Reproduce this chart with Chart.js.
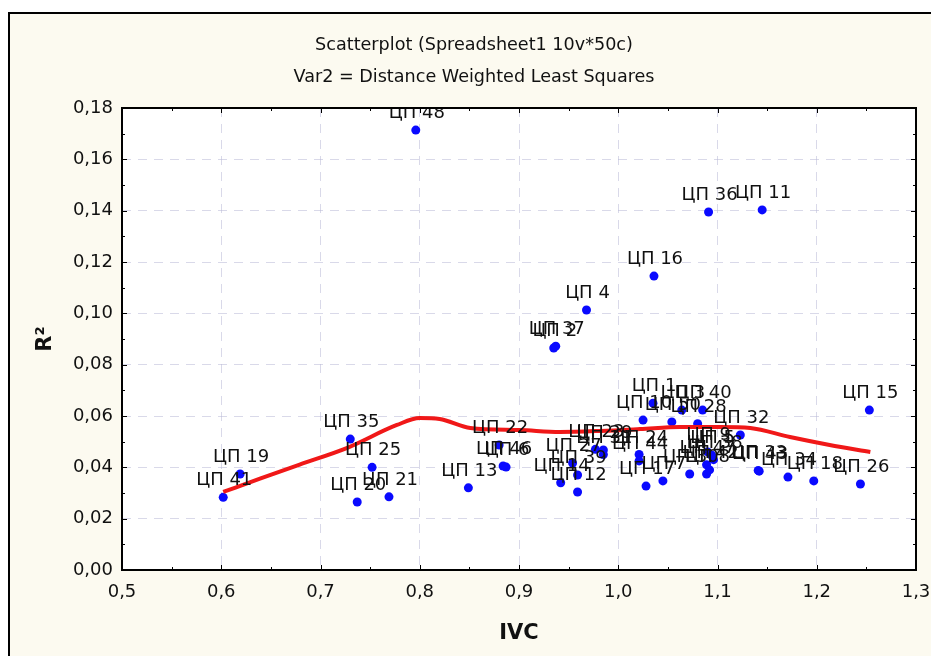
<!DOCTYPE html>
<html>
<head>
<meta charset="utf-8">
<script src="https://cdn.jsdelivr.net/npm/chart.js@4.4.1/dist/chart.umd.min.js"></script>
<style>
  html, body { margin: 0; padding: 0; background: #fff; }
</style>
</head>
<body>
<canvas id="scatterChart" width="931" height="656"></canvas>
<script>
// case names, IVC (x) and R2 (y)
var pointNames = [
  "ЦП 48", "ЦП 36", "ЦП 11", "ЦП 16", "ЦП 4", "ЦП 2", "ЦП 37", "ЦП 15",
  "ЦП 1", "ЦП 3", "ЦП 40", "ЦП 10", "ЦП 50", "ЦП 28", "ЦП 32", "ЦП 35",
  "ЦП 22", "ЦП 41", "ЦП 19", "ЦП 25", "ЦП 20", "ЦП 21", "ЦП 6", "ЦП 46",
  "ЦП 13", "ЦП 23", "ЦП 29", "ЦП 31", "ЦП 27", "ЦП 39", "ЦП 14", "ЦП 12",
  "ЦП 24", "ЦП 44", "ЦП 17", "ЦП 7", "ЦП 30", "ЦП 8", "ЦП 38", "ЦП 9",
  "ЦП 47", "ЦП 42", "ЦП 5", "ЦП 43", "ЦП 33", "ЦП 34", "ЦП 18", "ЦП 26"
];
var ivcValues = [
  0.796, 1.091, 1.145, 1.036, 0.968, 0.935, 0.937, 1.253,
  1.035, 1.064, 1.085, 1.025, 1.054, 1.080, 1.123, 0.730,
  0.880, 0.602, 0.619, 0.752, 0.737, 0.769, 0.887, 0.884,
  0.849, 0.977, 0.985, 0.985, 0.954, 0.959, 0.942, 0.959,
  1.021, 1.021, 1.028, 1.045, 1.072, 1.089, 1.096, 1.090,
  1.089, 1.092, 1.094, 1.142, 1.141, 1.171, 1.197, 1.244
];
var r2Values = [
  0.1714, 0.1395, 0.1403, 0.1145, 0.1013, 0.0865, 0.0872, 0.0623,
  0.0650, 0.0623, 0.0623, 0.0584, 0.0577, 0.0570, 0.0526, 0.0510,
  0.0487, 0.0283, 0.0374, 0.0400, 0.0265, 0.0285, 0.0401, 0.0405,
  0.0320, 0.0470, 0.0468, 0.0450, 0.0417, 0.0370, 0.0340, 0.0304,
  0.0450, 0.0425, 0.0327, 0.0347, 0.0374, 0.0374, 0.0430, 0.0460,
  0.0410, 0.0390, 0.0448, 0.0385, 0.0388, 0.0362, 0.0347, 0.0335
];

// distance weighted least squares fit
var curveIvc = [0.602, 0.639, 0.679, 0.727, 0.777, 0.800, 0.820, 0.851, 0.901, 0.941, 0.982, 1.022, 1.062, 1.103, 1.133, 1.173, 1.213, 1.254];
var curveR2 = [0.0304, 0.0356, 0.0411, 0.0476, 0.0565, 0.0592, 0.0588, 0.0553, 0.0545, 0.0538, 0.0542, 0.0549, 0.0557, 0.0557, 0.0553, 0.0518, 0.0487, 0.046];

var titleLines = ["Scatterplot (Spreadsheet1 10v*50c)", "Var2 = Distance Weighted Least Squares"];
var xTitle = "IVC";
var yTitle = "R²";

var fontFamily = "'DejaVu Sans', sans-serif";

var scatterPoints = ivcValues.map(function (v, i) { return { x: v, y: r2Values[i] }; });
var curvePoints = curveIvc.map(function (v, i) { return { x: v, y: curveR2[i] }; });

var framePlugin = {
  id: "frame",
  beforeDraw: function (chart) {
    var ctx = chart.ctx, w = chart.width, h = chart.height, a = chart.chartArea;
    ctx.save();
    ctx.fillStyle = "#fff";
    ctx.fillRect(0, 0, w, h);
    ctx.fillStyle = "#fcfaf0";
    ctx.fillRect(9, 13, w, h);
    ctx.strokeStyle = "#000";
    ctx.lineWidth = 2;
    ctx.beginPath();
    ctx.moveTo(9, h);
    ctx.lineTo(9, 13);
    ctx.lineTo(w, 13);
    ctx.stroke();
    ctx.fillStyle = "#fff";
    ctx.fillRect(a.left, a.top, a.right - a.left, a.bottom - a.top);
    ctx.restore();
  },
  afterDraw: function (chart) {
    var ctx = chart.ctx, a = chart.chartArea;
    var xs = chart.scales.x, ys = chart.scales.y;
    ctx.save();
    // point labels
    ctx.beginPath();
    ctx.rect(a.left, a.top, a.right - a.left, a.bottom - a.top);
    ctx.clip();
    ctx.fillStyle = "#111";
    ctx.font = "18px " + fontFamily;
    ctx.textAlign = "center";
    ctx.textBaseline = "alphabetic";
    pointNames.forEach(function (name, i) {
      var px = xs.getPixelForValue(ivcValues[i]);
      var py = ys.getPixelForValue(r2Values[i]);
      ctx.fillText(name, px + 1, py - 12);
    });
    ctx.restore();

    ctx.save();
    ctx.strokeStyle = "#000";
    ctx.lineWidth = 1;
    ctx.beginPath();
    var v, p;
    for (v = 0.5; v <= 1.3001; v += 0.05) {
      p = Math.round(xs.getPixelForValue(v)) + 0.5;
      var major = Math.abs(v * 10 - Math.round(v * 10)) < 0.01;
      var len = major ? 5 : 3;
      ctx.moveTo(p, a.bottom); ctx.lineTo(p, a.bottom - len);
      ctx.moveTo(p, a.top); ctx.lineTo(p, a.top + len);
    }
    for (v = 0; v <= 0.1801; v += 0.01) {
      p = Math.round(ys.getPixelForValue(v)) + 0.5;
      var majorY = Math.abs(v * 50 - Math.round(v * 50)) < 0.01;
      var lenY = majorY ? 5 : 3;
      ctx.moveTo(a.left, p); ctx.lineTo(a.left + lenY, p);
      ctx.moveTo(a.right, p); ctx.lineTo(a.right - lenY, p);
    }
    ctx.stroke();
    ctx.lineWidth = 2;
    ctx.strokeRect(a.left, a.top, a.right - a.left, a.bottom - a.top);

    // two-line title
    ctx.fillStyle = "#111";
    ctx.font = "17.6px " + fontFamily;
    ctx.textAlign = "center";
    ctx.textBaseline = "middle";
    ctx.fillText(titleLines[0], 474, 45);
    ctx.fillText(titleLines[1], 474, 77);
    ctx.restore();
  }
};

var ctx = document.getElementById("scatterChart").getContext("2d");
var scatterChart = new Chart(ctx, {
  type: "scatter",
  plugins: [framePlugin],
  data: {
    datasets: [
      {
        type: "line",
        label: "DWLS",
        data: curvePoints,
        borderColor: "#f01818",
        borderWidth: 4,
        pointRadius: 0,
        fill: false,
        tension: 0.4,
        cubicInterpolationMode: "monotone",
      },
      {
        type: "scatter",
        label: "Var2",
        data: scatterPoints,
        backgroundColor: "#0a0aff",
        borderColor: "#0a0aff",
        pointRadius: 4.5,
        borderWidth: 0,
      },
    ],
  },
  options: {
    responsive: false,
    animation: false,
    layout: {
      padding: { top: 108, right: 15, left: 0, bottom: 0 },
    },
    plugins: {
      legend: { display: false },
      tooltip: { enabled: false },
      title: { display: false },
    },
    scales: {
      x: {
        type: "linear",
        min: 0.5,
        max: 1.3,
        afterFit: function (scale) {
          scale.height = 86;
          scale.paddingLeft = 0;
          scale.paddingRight = 0;
        },
        ticks: {
          stepSize: 0.1,
          padding: 12,
          color: "#111",
          font: { family: fontFamily, size: 18 },
          callback: function (value) { return value.toFixed(1).replace(".", ","); },
        },
        grid: { color: "rgba(185,185,215,0.55)", drawTicks: false },
        border: { display: false, dash: [9, 7] },
        title: {
          display: true,
          text: xTitle,
          color: "#111",
          font: { family: fontFamily, size: 21, weight: "bold" },
          padding: { top: 0, bottom: 10 },
        },
      },
      y: {
        type: "linear",
        min: 0,
        max: 0.18,
        afterFit: function (scale) {
          scale.width = 122;
          scale.paddingTop = 0;
          scale.paddingBottom = 0;
        },
        ticks: {
          stepSize: 0.02,
          padding: 9,
          color: "#111",
          font: { family: fontFamily, size: 18 },
          callback: function (value) { return value.toFixed(2).replace(".", ","); },
        },
        grid: { color: "rgba(185,185,215,0.55)", drawTicks: false },
        border: { display: false, dash: [9, 7] },
        title: {
          display: true,
          text: yTitle,
          color: "#111",
          font: { family: fontFamily, size: 21, weight: "bold" },
          padding: { top: 33, bottom: 0 },
        },
      },
    },
  },
});
</script>
</body>
</html>
